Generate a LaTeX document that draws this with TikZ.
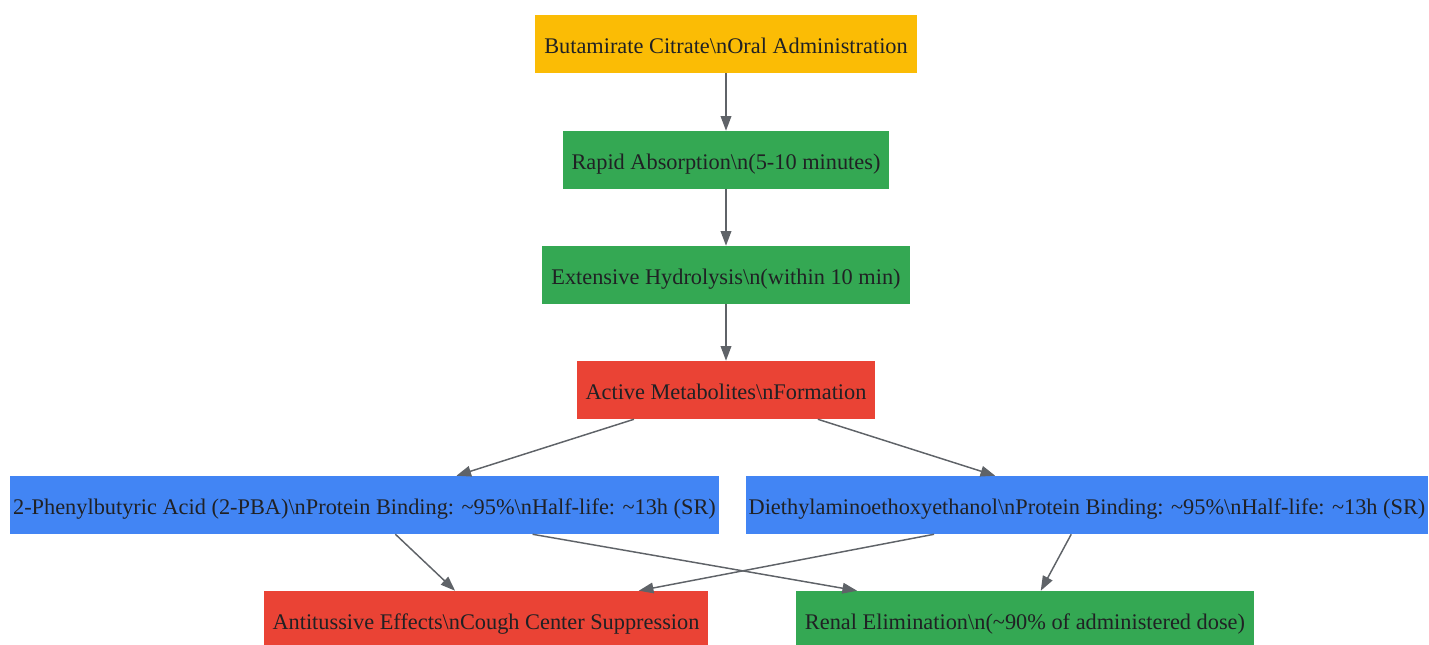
\documentclass[tikz,border=0pt]{standalone}
\usepackage{fontspec}
\setmainfont{Liberation Serif}
\usetikzlibrary{arrows.meta,positioning}
\definecolor{gyellow}{HTML}{FBBC05}
\definecolor{ggreen}{HTML}{34A853}
\definecolor{gred}{HTML}{EA4335}
\definecolor{gblue}{HTML}{4285F4}
\definecolor{gedge}{HTML}{5F6368}
\definecolor{gtext}{HTML}{202124}
\begin{document}
\begin{tikzpicture}[x=0.75pt, y=-0.75pt, >={Triangle[length=11pt,width=8pt]},
main node/.style={rectangle, minimum height=43.5pt, inner xsep=6.75pt, inner ysep=0pt, text height=14pt, text depth=0pt, text=gtext, font=\fontsize{16.75pt}{20pt}\selectfont},
wide node/.style={main node, inner xsep=2.25pt},
flow edge/.style={->, draw=gedge, fill=gedge, line width=1.1pt}]
\useasboundingbox (0,0) rectangle (1429,644);
\begin{scope}
\node[main node, fill=gyellow] (vOral) at (726,44) {Butamirate Citrate\textbackslash nOral Administration};
\node[main node, fill=ggreen] (vAbs) at (726,160) {Rapid Absorption\textbackslash n(5-10 minutes)};
\node[main node, fill=ggreen] (vHyd) at (726,275) {Extensive Hydrolysis\textbackslash n(within 10 min)};
\node[main node, fill=gred] (vMet) at (726,390) {Active Metabolites\textbackslash nFormation};
\node[wide node, fill=gblue] (vPBA) at (364.5,505) {2-Phenylbutyric Acid (2-PBA)\textbackslash nProtein Binding: \textasciitilde95\%\textbackslash nHalf-life: \textasciitilde13h (SR)};
\node[wide node, fill=gblue] (vDEE) at (1087,505) {Diethylaminoethoxyethanol\textbackslash nProtein Binding: \textasciitilde95\%\textbackslash nHalf-life: \textasciitilde13h (SR)};
\node[main node, fill=gred] (vCough) at (486,620) {Antitussive Effects\textbackslash nCough Center Suppression};
\node[main node, fill=ggreen] (vRenal) at (1025,620) {Renal Elimination\textbackslash n(\textasciitilde90\% of administered dose)};
\end{scope}
\begin{scope}
\draw[flow edge] (vOral) -- (vAbs);
\draw[flow edge] (vAbs) -- (vHyd);
\draw[flow edge] (vHyd) -- (vMet);
\draw[flow edge] (vMet) -- (vPBA);
\draw[flow edge] (vMet) -- (vDEE);
\draw[flow edge] (vPBA) -- (vCough);
\draw[flow edge] (vPBA) -- (vRenal);
\draw[flow edge] (vDEE) -- (vCough);
\draw[flow edge] (vDEE) -- (vRenal);
\end{scope}
\end{tikzpicture}
\end{document}
